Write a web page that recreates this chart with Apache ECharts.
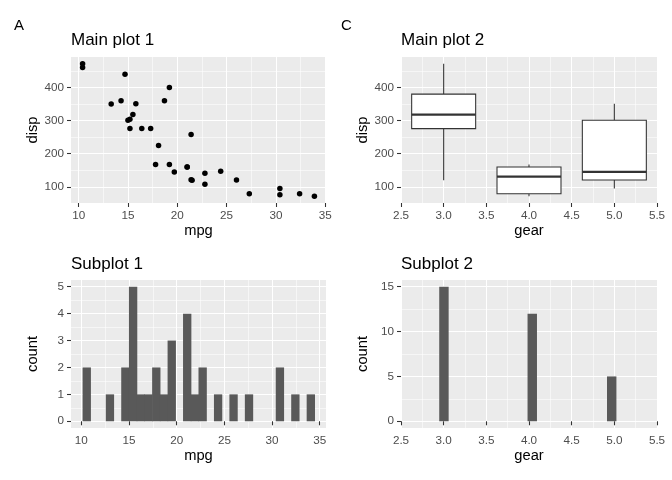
<!DOCTYPE html>
<html>
<head>
<meta charset="utf-8">
<script src="https://cdn.jsdelivr.net/npm/echarts@6/dist/echarts.min.js"></script>
<style>
  html, body { margin: 0; padding: 0; background: #fff; }
  #chart { width: 672px; height: 480px; }
</style>
</head>
<body>
<div id="chart"></div>
<script>
// mtcars values
const mpg = [21.0, 21.0, 22.8, 21.4, 18.7, 18.1, 14.3, 24.4, 22.8, 19.2, 17.8, 16.4, 17.3, 15.2, 10.4, 10.4,
  14.7, 32.4, 30.4, 33.9, 21.5, 15.5, 15.2, 13.3, 19.2, 27.3, 26.0, 30.4, 15.8, 19.7, 15.0, 21.4];
const disp = [160, 160, 108, 258, 360, 225, 360, 146.7, 140.8, 167.6, 167.6, 275.8, 275.8, 275.8, 472, 460,
  440, 78.7, 75.7, 71.1, 120.1, 318, 304, 350, 400, 79, 120.3, 95.1, 351, 145, 301, 121];

// boxplot of disp by gear
const boxGear = [3, 4, 5];
const boxLower = [120.1, 71.1, 95.1];
const boxQ1 = [275.8, 78.9, 120.3];
const boxMedian = [318, 130.9, 145];
const boxQ3 = [380, 160, 301];
const boxUpper = [472, 167.6, 351];

// histogram of mpg (30 bins)
const mpgBinOrigin = 10.129;
const mpgBinWidth = 0.8103;
const mpgCounts = [2, 0, 0, 1, 0, 2, 5, 1, 1, 2, 1, 3, 0, 4, 1, 2, 0, 1, 0, 1, 0, 1, 0, 0, 0, 2, 0, 1, 0, 1];

// histogram of gear
const gearBinStart = [2.948, 3.983, 4.914];
const gearBinWidth = 0.1034;
const gearCounts = [15, 12, 5];

// axis breaks
const mpgBreaks = [10, 15, 20, 25, 30, 35];
const mpgMinor = [12.5, 17.5, 22.5, 27.5, 32.5];
const dispBreaks = [100, 200, 300, 400];
const dispMinor = [150, 250, 350, 450];
const gearBreaks = [2.5, 3.0, 3.5, 4.0, 4.5, 5.0, 5.5];
const gearMinor = [2.75, 3.25, 3.75, 4.25, 4.75, 5.25];
const countBreaks = [0, 1, 2, 3, 4, 5];
const countMinor = [0.5, 1.5, 2.5, 3.5, 4.5];
const gearCountBreaks = [0, 5, 10, 15];
const gearCountMinor = [2.5, 7.5, 12.5];

const FONT = 'Liberation Sans, Arial, sans-serif';

function axisPair(dim, grid, min, max, majors, minors, name, gap, fmt) {
  const major = {
    type: 'value', gridIndex: grid, min: min, max: max,
    position: dim === 'x' ? 'bottom' : 'left',
    name: name, nameLocation: 'middle', nameGap: gap,
    nameTextStyle: { color: '#000', fontSize: 14.7, fontFamily: FONT },
    axisLine: { show: false },
    axisTick: { show: true, length: 4, customValues: majors, lineStyle: { color: '#333', width: 1.07 } },
    axisLabel: { customValues: majors, color: '#4D4D4D', fontSize: 11.7, fontFamily: FONT, margin: 7,
      formatter: fmt || (v => String(v)) },
    splitLine: { show: true, lineStyle: { color: '#fff', width: 1.1 } }
  };
  const minor = {
    type: 'value', gridIndex: grid, min: min, max: max,
    position: dim === 'x' ? 'bottom' : 'left',
    axisLine: { show: false },
    axisTick: { show: false, customValues: minors },
    axisLabel: { show: false, customValues: minors },
    splitLine: { show: true, lineStyle: { color: '#fff', width: 0.55 } }
  };
  return [major, minor];
}

// bars overlap their right neighbour a little so no seam shows
function histItem(params, api) {
  const a = api.coord([api.value(0), 0]);
  const b = api.coord([api.value(1), api.value(2)]);
  return {
    type: 'rect',
    shape: { x: a[0], y: b[1], width: b[0] - a[0] + 0.6, height: a[1] - b[1] },
    style: { fill: '#595959', opacity: 1 }
  };
}

function boxItem(params, api) {
  const x = api.value(0);
  const half = 0.375;
  const lo = api.coord([x, api.value(1)]);
  const q1 = api.coord([x - half, api.value(2)]);
  const med = api.coord([x - half, api.value(3)]);
  const medR = api.coord([x + half, api.value(3)]);
  const q3 = api.coord([x + half, api.value(4)]);
  const hi = api.coord([x, api.value(5)]);
  const line = { stroke: '#333', lineWidth: 1.07, opacity: 1 };
  return {
    type: 'group',
    children: [
      { type: 'line', shape: { x1: hi[0], y1: hi[1], x2: hi[0], y2: q3[1] }, style: line },
      { type: 'line', shape: { x1: lo[0], y1: q1[1], x2: lo[0], y2: lo[1] }, style: line },
      { type: 'rect', shape: { x: q1[0], y: q3[1], width: q3[0] - q1[0], height: q1[1] - q3[1] },
        style: { fill: '#fff', stroke: '#333', lineWidth: 1.07, opacity: 1 } },
      { type: 'line', shape: { x1: med[0], y1: med[1], x2: medR[0], y2: med[1] },
        style: { stroke: '#333', lineWidth: 2.2, opacity: 1 } }
    ]
  };
}

const mpgHistData = mpgCounts.map((c, i) => [mpgBinOrigin + i * mpgBinWidth, mpgBinOrigin + (i + 1) * mpgBinWidth, c])
  .filter(d => d[2] > 0);
const gearHistData = gearCounts.map((c, i) => [gearBinStart[i], gearBinStart[i] + gearBinWidth, c]);
const boxData = boxGear.map((g, i) => [g, boxLower[i], boxQ1[i], boxMedian[i], boxQ3[i], boxUpper[i]]);
const scatterData = mpg.map((m, i) => [m, disp[i]]);

const one = v => v.toFixed(1);

const gx = [].concat(
  axisPair('x', 0, 9.225, 35.075, mpgBreaks, mpgMinor, 'mpg', 20),
  axisPair('x', 1, 2.5, 5.5, gearBreaks, gearMinor, 'gear', 20, one),
  axisPair('x', 2, 8.913, 35.656, mpgBreaks, mpgMinor, 'mpg', 20),
  axisPair('x', 3, 2.5, 5.5, gearBreaks, gearMinor, 'gear', 20, one)
);
const gy = [].concat(
  axisPair('y', 0, 51.06, 492.05, dispBreaks, dispMinor, 'disp', 31),
  axisPair('y', 1, 51.06, 492.05, dispBreaks, dispMinor, 'disp', 31),
  axisPair('y', 2, -0.25, 5.25, countBreaks, countMinor, 'count', 31),
  axisPair('y', 3, -0.75, 15.75, gearCountBreaks, gearCountMinor, 'count', 31)
);

const titleStyle = { color: '#000', fontSize: 17, fontWeight: 'normal', fontFamily: FONT };
const tagStyle = { color: '#000', fontSize: 15, fontWeight: 'normal', fontFamily: FONT };

const chart = echarts.init(document.getElementById('chart'), null, { renderer: 'canvas' });
chart.setOption({
  animation: false,
  backgroundColor: '#fff',
  textStyle: { fontFamily: FONT },
  title: [
    { text: 'A', left: 14, top: 18, padding: 0, textStyle: tagStyle },
    { text: 'C', left: 341, top: 18, padding: 0, textStyle: tagStyle },
    { text: 'Main plot 1', left: 71, top: 32, padding: 0, textStyle: titleStyle },
    { text: 'Main plot 2', left: 401, top: 32, padding: 0, textStyle: titleStyle },
    { text: 'Subplot 1', left: 71, top: 256, padding: 0, textStyle: titleStyle },
    { text: 'Subplot 2', left: 401, top: 256, padding: 0, textStyle: titleStyle }
  ],
  grid: [
    { left: 71, top: 57, width: 255, height: 146 },
    { left: 401, top: 57, width: 256, height: 146 },
    { left: 71, top: 280, width: 255, height: 148 },
    { left: 401, top: 280, width: 256, height: 148 }
  ].map(g => Object.assign({ show: true, backgroundColor: '#EBEBEB', borderWidth: 0, containLabel: false }, g)),
  xAxis: gx,
  yAxis: gy,
  series: [
    {
      type: 'scatter', xAxisIndex: 0, yAxisIndex: 0, zlevel: 1,
      data: scatterData, symbolSize: 5.5,
      itemStyle: { color: '#000', opacity: 1 }
    },
    {
      type: 'custom', xAxisIndex: 2, yAxisIndex: 2, zlevel: 1,
      data: boxData, renderItem: boxItem, itemStyle: { opacity: 1 },
      encode: { x: 0, y: [1, 2, 3, 4, 5] }
    },
    {
      type: 'custom', xAxisIndex: 4, yAxisIndex: 4, zlevel: 1,
      data: mpgHistData, renderItem: histItem, itemStyle: { opacity: 1 },
      encode: { x: [0, 1], y: 2 }
    },
    {
      type: 'custom', xAxisIndex: 6, yAxisIndex: 6, zlevel: 1,
      data: gearHistData, renderItem: histItem, itemStyle: { opacity: 1 },
      encode: { x: [0, 1], y: 2 }
    }
  ]
});
</script>
</body>
</html>
